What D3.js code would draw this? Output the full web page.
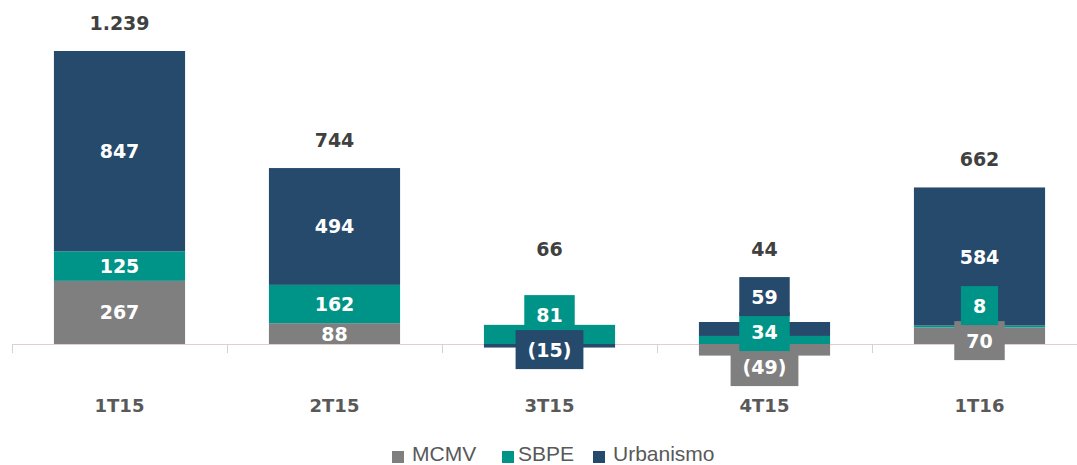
<!DOCTYPE html>
<html>
<head>
<meta charset="utf-8">
<script src="https://cdnjs.cloudflare.com/ajax/libs/d3/7.8.5/d3.min.js"></script>
<style>
  html, body { margin: 0; padding: 0; background: #fff; }
  #body { width: 1077px; height: 465px; }
</style>
</head>
<body>
<div id="body"><svg></svg></div>
<script>
var categories = ["1T15", "2T15", "3T15", "4T15", "1T16"];
var seriesNames = ["MCMV", "SBPE", "Urbanismo"];
var mcmv = [267, 88, 0, -49, 70];
var sbpe = [125, 162, 81, 34, 8];
var urbanismo = [847, 494, -15, 59, 584];
var colors = ["#7f7f7f", "#009488", "#254a6c"];

var width = 1077, height = 465;
var svg = d3.select("svg").attr("width", width).attr("height", height);

var rows = categories.map(function (c, i) {
  return {cat: c, MCMV: mcmv[i], SBPE: sbpe[i], Urbanismo: urbanismo[i]};
});
var totals = rows.map(function (r) { return r.MCMV + r.SBPE + r.Urbanismo; });

var fmt = d3.formatLocale({decimal: ",", thousands: ".", grouping: [3], currency: ["R$", ""]}).format(",d");
function labelText(v) { return v < 0 ? "(" + fmt(-v) + ")" : fmt(v); }

var x = d3.scaleBand()
  .domain(categories)
  .range([12, 1087])
  .paddingInner(0.39)
  .paddingOuter(0.195);

var y = d3.scaleLinear()
  .domain([0, 1239])
  .range([344, 51]);

var stack = d3.stack().keys(seriesNames).offset(d3.stackOffsetDiverging);
var layers = stack(rows);

// axis line + ticks at category boundaries
var axis = svg.append("g").attr("class", "axis");
axis.append("line")
  .attr("x1", 12).attr("x2", width)
  .attr("y1", y(0) + 0.5).attr("y2", y(0) + 0.5)
  .attr("stroke", "#e2cdd2");
axis.selectAll("line.tick")
  .data(d3.range(categories.length + 1))
  .enter().append("line")
  .attr("class", "tick")
  .attr("x1", function (i) { return 12.5 + i * x.step(); })
  .attr("x2", function (i) { return 12.5 + i * x.step(); })
  .attr("y1", y(0)).attr("y2", y(0) + 9)
  .attr("stroke", "#d9d0d2");

// bars
var barGroup = svg.append("g");
layers.forEach(function (layer, k) {
  barGroup.selectAll("rect.s" + k)
    .data(layer)
    .enter().append("rect")
    .attr("class", "s" + k)
    .attr("x", function (d) { return x(d.data.cat); })
    .attr("width", x.bandwidth())
    .attr("y", function (d) { return y(d[1]); })
    .attr("height", function (d) { return y(d[0]) - y(d[1]); })
    .attr("fill", colors[k]);
});

// segment labels
var labels = [];
layers.forEach(function (layer, k) {
  layer.forEach(function (d, i) {
    var v = d.data[seriesNames[k]];
    if (v === 0) return;
    var h = y(d[0]) - y(d[1]);
    labels.push({
      cat: d.data.cat, k: k, v: v,
      y: (y(d[0]) + y(d[1])) / 2,
      boxed: h < 20
    });
  });
});

// spread overlapping boxed labels inside each bar
var boxH = 39, gap = 35;
categories.forEach(function (c) {
  var grp = labels.filter(function (l) { return l.cat === c && l.boxed; });
  if (grp.length < 2) return;
  grp.sort(function (a, b) { return a.y - b.y; });
  var mean = d3.mean(grp, function (l) { return l.y; });
  grp.forEach(function (l, j) {
    l.y = mean + (j - (grp.length - 1) / 2) * gap - 8;
  });
});

var labelGroup = svg.append("g")
  .attr("font-family", "DejaVu Sans, Verdana, sans-serif")
  .attr("font-weight", "bold")
  .attr("font-size", "19px");

labels.forEach(function (l) {
  var g = labelGroup.append("g");
  var t = g.append("text")
    .attr("x", x(l.cat) + x.bandwidth() / 2)
    .attr("y", l.y)
    .attr("text-anchor", "middle")
    .attr("dominant-baseline", "central")
    .attr("fill", "#fff")
    .text(labelText(l.v));
  if (l.boxed) {
    var w = t.node().getComputedTextLength() + 24;
    g.insert("rect", "text")
      .attr("x", x(l.cat) + x.bandwidth() / 2 - w / 2)
      .attr("y", l.y - boxH / 2)
      .attr("width", w)
      .attr("height", boxH)
      .attr("fill", colors[l.k]);
  }
});

// totals
svg.append("g")
  .selectAll("text")
  .data(rows)
  .enter().append("text")
  .attr("x", function (d) { return x(d.cat) + x.bandwidth() / 2; })
  .attr("y", function (d) {
    var top = d3.sum([d.MCMV, d.SBPE, d.Urbanismo].filter(function (v) { return v > 0; }));
    return Math.min(y(top) - 28, y(0) - 95);
  })
  .attr("text-anchor", "middle")
  .attr("dominant-baseline", "central")
  .attr("font-family", "DejaVu Sans, Verdana, sans-serif")
  .attr("font-weight", "bold")
  .attr("font-size", "19px")
  .attr("fill", "#404040")
  .text(function (d, i) { return fmt(totals[i]); });

// category labels
svg.append("g")
  .selectAll("text")
  .data(categories)
  .enter().append("text")
  .attr("x", function (d) { return x(d) + x.bandwidth() / 2; })
  .attr("y", 405)
  .attr("text-anchor", "middle")
  .attr("dominant-baseline", "central")
  .attr("font-family", "DejaVu Sans, Verdana, sans-serif")
  .attr("font-weight", "bold")
  .attr("font-size", "18px")
  .attr("fill", "#595959")
  .text(function (d) { return d; });

// legend
var legendX = [392, 502, 593];
var legend = svg.append("g")
  .attr("font-family", "Liberation Sans, Arial, sans-serif")
  .attr("font-size", "21px")
  .attr("fill", "#595959");
seriesNames.forEach(function (s, k) {
  var item = legend.append("g").attr("transform", "translate(" + legendX[k] + ",0)");
  item.append("rect")
    .attr("x", 0).attr("y", 451)
    .attr("width", 12).attr("height", 12)
    .attr("fill", colors[k]);
  item.append("text")
    .attr("x", k === 1 ? 16 : 20).attr("y", 461)
    .text(s);
});
</script>
</body>
</html>
